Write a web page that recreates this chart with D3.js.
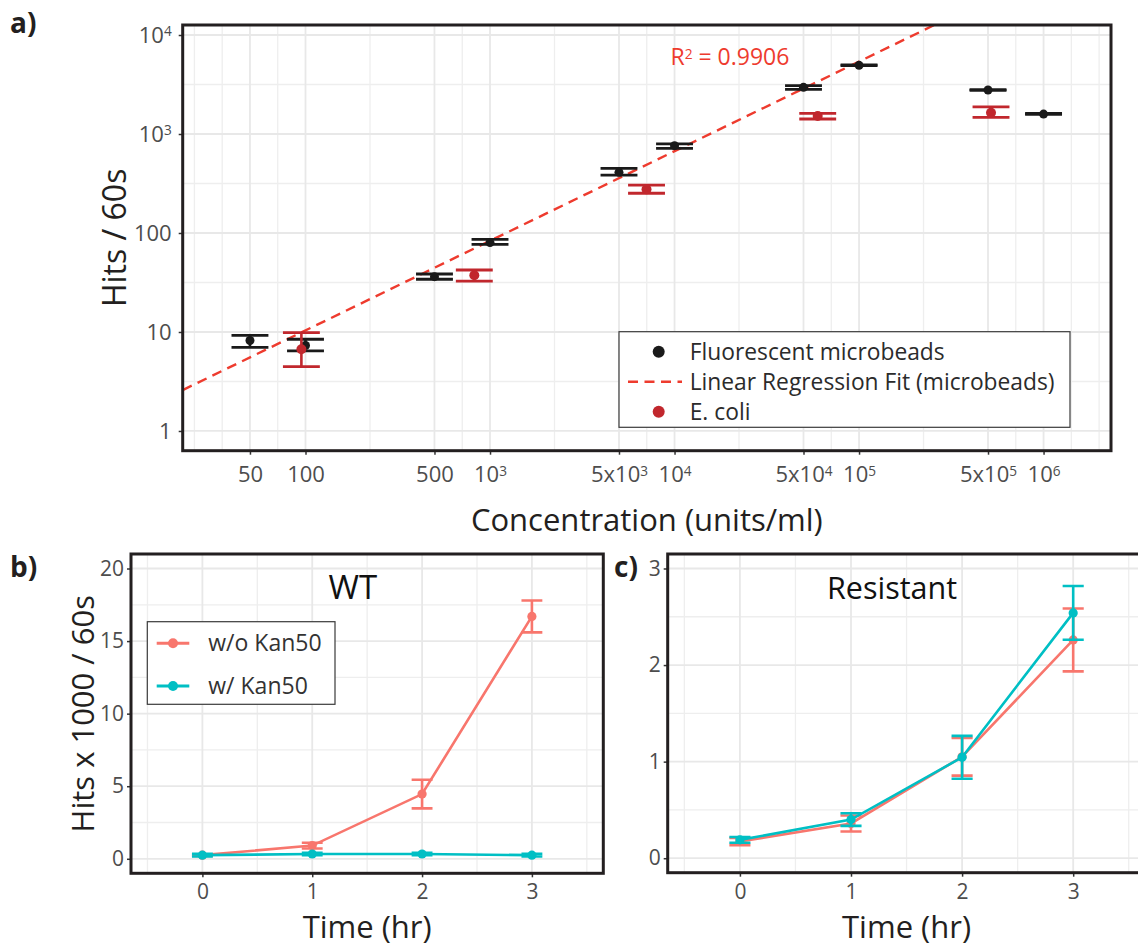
<!DOCTYPE html>
<html>
<head>
<meta charset="utf-8">
<script src="https://cdn.jsdelivr.net/npm/d3@7"></script>
<style>
  body { margin: 0; background: #fff; }
  svg text { font-family: "Open Sans", sans-serif; }
</style>
</head>
<body>
<div id="chart"></div>
<script>
// ---- panel a : hits vs concentration ----
var beadConc = [50, 100, 500, 1e3, 5e3, 1e4, 5e4, 1e5, 5e5, 1e6];
var beadHits = [8.2, 7.3, 36.2, 80, 410, 762, 2960, 4940, 2780, 1590];
var beadLow  = [7.0, 6.43, 34.1, 76.9, 385, 717, 2827, 4900, 2760, 1575];
var beadHigh = [9.25, 8.44, 38.5, 86.3, 450, 793, 3076, 4990, 2810, 1610];
var fitLimit = 1e5; // beads above this saturate, left out of the fit

var ecoliConc = [95, 822, 7050, 59700, 519000];
var ecoliHits = [6.7, 37.4, 276, 1520, 1640];
var ecoliLow  = [4.46, 32.7, 252, 1418, 1475];
var ecoliHigh = [9.84, 42.3, 305, 1618, 1875];

var concBreaks = [50, 100, 500, 1e3, 5e3, 1e4, 5e4, 1e5, 5e5, 1e6];
var concLabels = [["50"], ["100"], ["500"], ["10", "3"], ["5x10", "3"], ["10", "4"],
                  ["5x10", "4"], ["10", "5"], ["5x10", "5"], ["10", "6"]];
var hitBreaks = [1, 10, 100, 1e3, 1e4];
var hitLabels = [["1"], ["10"], ["100"], ["10", "3"], ["10", "4"]];

// ---- panels b, c : hits x 1000 vs time ----
var hours = [0, 1, 2, 3];
var wtNoKan     = [0.25, 0.91, 4.46, 16.7];
var wtNoKanErr  = [0.05, 0.2, 0.99, 1.1];
var wtKan       = [0.25, 0.33, 0.33, 0.25];
var wtKanErr    = [0.09, 0.09, 0.09, 0.09];
var resNoKan    = [0.173, 0.36, 1.05, 2.26];
var resNoKanErr = [0.037, 0.083, 0.195, 0.325];
var resKan      = [0.19, 0.40, 1.045, 2.54];
var resKanErr   = [0.03, 0.065, 0.222, 0.278];

var RED = "#F8766D", CYAN = "#00BFC4", INK = "#231f20", TICKTXT = "#4d4d4d";
var GRID = "#e8e8e8", MINOR = "#eeeeee";

var svg = d3.select("#chart").append("svg")
  .attr("width", 1138).attr("height", 950)
  .style("background", "#fff");
var defs = svg.append("defs");

function clipRect(id, l, t, r, b) {
  defs.append("clipPath").attr("id", id).append("rect")
    .attr("x", l).attr("y", t).attr("width", r - l).attr("height", b - t);
  return "url(#" + id + ")";
}

// ggplot-style minor breaks: midpoints between breaks, extended one step each side
function minorBreaks(b, lo, hi) {
  var n = b.length;
  var ext = [b[0] - (b[1] - b[0])].concat(b, [b[n - 1] + (b[n - 1] - b[n - 2])]);
  var out = [];
  for (var i = 0; i < ext.length - 1; i++) {
    if (i == 0 || i == ext.length - 2) out.push(i == 0 ? ext[0] : ext[ext.length - 1]);
    out.push((ext[i] + ext[i + 1]) / 2);
  }
  return out.filter(function(v) { return v > lo && v < hi; });
}

function supLabel(sel, parts) {
  sel.text(null);
  sel.append("tspan").text(parts[0]);
  if (parts[1]) sel.append("tspan").attr("dy", "-0.45em").attr("font-size", "0.62em").text(parts[1]);
}

function styleAxis(g, size) {
  g.attr("font-family", null).attr("font-size", null);
  g.select(".domain").remove();
  g.selectAll(".tick line").attr("stroke", "#333").attr("stroke-width", 1.5);
  g.selectAll(".tick text").attr("font-size", size).attr("fill", TICKTXT);
}

// ================= panel a =================
var A = {left: 182.7, right: 1111, top: 25, bottom: 450.7};
var xA = d3.scaleLog().domain([21.6, 2.32e6]).range([A.left, A.right]);
var yA = d3.scaleLog().domain([0.632, 12620]).range([A.bottom, A.top]);
var clipA = clipRect("clipA", A.left, A.top, A.right, A.bottom);

var gridA = svg.append("g").attr("clip-path", clipA);
var lx = xA.domain().map(Math.log10), ly = yA.domain().map(Math.log10);
gridA.selectAll(".vminor").data(minorBreaks(concBreaks.map(Math.log10), lx[0], lx[1]))
  .enter().append("line")
  .attr("x1", d => xA(Math.pow(10, d))).attr("x2", d => xA(Math.pow(10, d)))
  .attr("y1", A.top).attr("y2", A.bottom)
  .attr("stroke", MINOR).attr("stroke-width", 1.3);
gridA.selectAll(".hminor").data(minorBreaks(hitBreaks.map(Math.log10), ly[0], ly[1]))
  .enter().append("line")
  .attr("y1", d => yA(Math.pow(10, d))).attr("y2", d => yA(Math.pow(10, d)))
  .attr("x1", A.left).attr("x2", A.right)
  .attr("stroke", MINOR).attr("stroke-width", 1.3);
gridA.selectAll(".vmajor").data(concBreaks).enter().append("line")
  .attr("x1", d => xA(d)).attr("x2", d => xA(d))
  .attr("y1", A.top).attr("y2", A.bottom)
  .attr("stroke", GRID).attr("stroke-width", 1.8);
gridA.selectAll(".hmajor").data(hitBreaks).enter().append("line")
  .attr("y1", d => yA(d)).attr("y2", d => yA(d))
  .attr("x1", A.left).attr("x2", A.right)
  .attr("stroke", GRID).attr("stroke-width", 1.8);

// linear regression on log-log beads up to fitLimit
var fx = [], fy = [];
beadConc.forEach(function(c, i) {
  if (c <= fitLimit) { fx.push(Math.log10(c)); fy.push(Math.log10(beadHits[i])); }
});
var mx = d3.mean(fx), my = d3.mean(fy);
var sxy = d3.sum(fx, (v, i) => (v - mx) * (fy[i] - my));
var sxx = d3.sum(fx, v => (v - mx) * (v - mx));
var slope = sxy / sxx, icpt = my - slope * mx;
var fitEnds = xA.domain();
svg.append("g").attr("clip-path", clipA).append("line")
  .attr("x1", xA(fitEnds[0])).attr("y1", yA(Math.pow(10, icpt + slope * Math.log10(fitEnds[0]))))
  .attr("x2", xA(fitEnds[1])).attr("y2", yA(Math.pow(10, icpt + slope * Math.log10(fitEnds[1]))))
  .attr("stroke", "#ee3b2e").attr("stroke-width", 2.4).attr("stroke-dasharray", "10,6.5");

var capA = 0.1; // half width of errorbar caps in decades
function logBars(g, conc, low, high, color) {
  conc.forEach(function(c, i) {
    var l = xA(c / Math.pow(10, capA)), r = xA(c * Math.pow(10, capA));
    g.append("line").attr("x1", xA(c)).attr("x2", xA(c)).attr("y1", yA(low[i])).attr("y2", yA(high[i]))
      .attr("stroke", color).attr("stroke-width", 2.6);
    [low[i], high[i]].forEach(function(v) {
      g.append("line").attr("x1", l).attr("x2", r).attr("y1", yA(v)).attr("y2", yA(v))
        .attr("stroke", color).attr("stroke-width", 2.8);
    });
  });
}
var marksA = svg.append("g").attr("clip-path", clipA);
logBars(marksA, beadConc, beadLow, beadHigh, "#1a1a1a");
marksA.selectAll(".bead").data(beadConc).enter().append("circle")
  .attr("cx", d => xA(d)).attr("cy", (d, i) => yA(beadHits[i])).attr("r", 4.5).attr("fill", "#1a1a1a");
logBars(marksA, ecoliConc, ecoliLow, ecoliHigh, "#c1272d");
marksA.selectAll(".ecoli").data(ecoliConc).enter().append("circle")
  .attr("cx", d => xA(d)).attr("cy", (d, i) => yA(ecoliHits[i])).attr("r", 5).attr("fill", "#c1272d");

// R^2 annotation
var r2 = svg.append("text").attr("x", xA(9500)).attr("y", yA(4980))
  .attr("font-size", 23).attr("fill", "#ee3b2e");
r2.append("tspan").text("R");
r2.append("tspan").attr("dy", "-0.45em").attr("font-size", "0.6em").text("2");
r2.append("tspan").attr("dy", "0.27em").text(" = 0.9906");

// axes
var gxA = svg.append("g").attr("transform", "translate(0," + A.bottom + ")")
  .call(d3.axisBottom(xA).tickValues(concBreaks).tickSize(4).tickPadding(12).tickSizeOuter(0));
styleAxis(gxA, 22);
gxA.selectAll(".tick text").each(function(d, i) { supLabel(d3.select(this), concLabels[i]); });
var gyA = svg.append("g").attr("transform", "translate(" + A.left + ",0)")
  .call(d3.axisLeft(yA).tickValues(hitBreaks).tickSize(4).tickPadding(7).tickSizeOuter(0));
styleAxis(gyA, 22);
gyA.selectAll(".tick text").each(function(d, i) { supLabel(d3.select(this), hitLabels[i]); });

svg.append("rect").attr("x", A.left).attr("y", A.top)
  .attr("width", A.right - A.left).attr("height", A.bottom - A.top)
  .attr("fill", "none").attr("stroke", INK).attr("stroke-width", 3);

// legend a
var legA = svg.append("g");
legA.append("rect").attr("x", 619).attr("y", 331.7).attr("width", 451).attr("height", 95.6)
  .attr("fill", "#fff").attr("stroke", "#3a3a3a").attr("stroke-width", 1.2);
legA.append("circle").attr("cx", 658.7).attr("cy", 351.7).attr("r", 6).attr("fill", "#1a1a1a");
legA.append("line").attr("x1", 628).attr("x2", 682).attr("y1", 381.7).attr("y2", 381.7)
  .attr("stroke", "#ee3b2e").attr("stroke-width", 2.4).attr("stroke-dasharray", "10,6.5");
legA.append("circle").attr("cx", 658.7).attr("cy", 411.7).attr("r", 6).attr("fill", "#c1272d");
var legTextA = ["Fluorescent microbeads", "Linear Regression Fit (microbeads)", "E. coli"];
legA.selectAll(".lt").data(legTextA).enter().append("text")
  .attr("x", 689.7).attr("y", (d, i) => 359.8 + i * 30)
  .attr("font-size", 22.8).attr("fill", "#2b2b2b").text(d => d);

svg.append("text").attr("x", (A.left + A.right) / 2).attr("y", 531)
  .attr("text-anchor", "middle").attr("font-size", 31).attr("fill", INK)
  .text("Concentration (units/ml)");
svg.append("text").attr("transform", "translate(126," + (A.top + A.bottom) / 2 + ") rotate(-90)")
  .attr("text-anchor", "middle").attr("font-size", 32).attr("fill", INK)
  .text("Hits / 60s");
svg.append("text").attr("x", 10).attr("y", 33).attr("font-size", 28)
  .attr("font-weight", "bold").attr("fill", INK).text("a)");

// ================= panels b, c =================
function timePanel(P) {
  var x = d3.scaleLinear().domain([-0.65, 3.65]).range([P.left, P.right]);
  var y = d3.scaleLinear().domain(P.yDomain).range([P.bottom, P.top]);
  var cp = clipRect(P.id, P.left, P.top, P.right, P.bottom);
  var g = svg.append("g").attr("clip-path", cp);
  var xb = hours, yb = P.yBreaks;

  g.selectAll(".vmin").data(minorBreaks(xb, x.domain()[0], x.domain()[1])).enter().append("line")
    .attr("x1", d => x(d)).attr("x2", d => x(d)).attr("y1", P.top).attr("y2", P.bottom)
    .attr("stroke", MINOR).attr("stroke-width", 1.3);
  g.selectAll(".hmin").data(minorBreaks(yb, y.domain()[0], y.domain()[1])).enter().append("line")
    .attr("y1", d => y(d)).attr("y2", d => y(d)).attr("x1", P.left).attr("x2", P.right)
    .attr("stroke", MINOR).attr("stroke-width", 1.3);
  g.selectAll(".vmaj").data(xb).enter().append("line")
    .attr("x1", d => x(d)).attr("x2", d => x(d)).attr("y1", P.top).attr("y2", P.bottom)
    .attr("stroke", GRID).attr("stroke-width", 1.8);
  g.selectAll(".hmaj").data(yb).enter().append("line")
    .attr("y1", d => y(d)).attr("y2", d => y(d)).attr("x1", P.left).attr("x2", P.right)
    .attr("stroke", GRID).attr("stroke-width", 1.8);

  var line = d3.line().x((d, i) => x(hours[i])).y(d => y(d));
  P.series.forEach(function(s) {
    g.append("path").datum(s.vals).attr("d", line)
      .attr("fill", "none").attr("stroke", s.color).attr("stroke-width", 2.6);
    s.vals.forEach(function(v, i) {
      var t = hours[i];
      g.append("line").attr("x1", x(t)).attr("x2", x(t))
        .attr("y1", y(v - s.err[i])).attr("y2", y(v + s.err[i]))
        .attr("stroke", s.color).attr("stroke-width", 2.6);
      [v - s.err[i], v + s.err[i]].forEach(function(e) {
        g.append("line").attr("x1", x(t - 0.095)).attr("x2", x(t + 0.095))
          .attr("y1", y(e)).attr("y2", y(e))
          .attr("stroke", s.color).attr("stroke-width", 2.6);
      });
    });
    g.selectAll(null).data(s.vals).enter().append("circle")
      .attr("cx", (d, i) => x(hours[i])).attr("cy", d => y(d)).attr("r", 4.6).attr("fill", s.color);
  });

  var gx = svg.append("g").attr("transform", "translate(0," + P.bottom + ")")
    .call(d3.axisBottom(x).tickValues(xb).tickFormat(d3.format("d"))
      .tickSize(4).tickPadding(7).tickSizeOuter(0));
  styleAxis(gx, 21);
  var gy = svg.append("g").attr("transform", "translate(" + P.left + ",0)")
    .call(d3.axisLeft(y).tickValues(yb).tickFormat(d3.format("d"))
      .tickSize(4).tickPadding(3).tickSizeOuter(0));
  styleAxis(gy, 21);

  svg.append("rect").attr("x", P.left).attr("y", P.top)
    .attr("width", P.right - P.left).attr("height", P.bottom - P.top)
    .attr("fill", "none").attr("stroke", INK).attr("stroke-width", 3);

  svg.append("text").attr("x", x(1.37)).attr("y", P.top + 45)
    .attr("text-anchor", "middle").attr("font-size", P.titleSize).attr("fill", "#111").text(P.title);
  svg.append("text").attr("x", (P.left + P.right) / 2).attr("y", 938)
    .attr("text-anchor", "middle").attr("font-size", 31).attr("fill", INK).text("Time (hr)");
  svg.append("text").attr("x", P.tagX).attr("y", 577).attr("font-size", 28)
    .attr("font-weight", "bold").attr("fill", INK).text(P.tag);
  return {x: x, y: y};
}

timePanel({
  id: "clipB", left: 131, right: 603.3, top: 554, bottom: 873.3,
  yDomain: [-1, 21], yBreaks: [0, 5, 10, 15, 20], title: "WT", titleSize: 33, tag: "b)", tagX: 10,
  series: [{vals: wtNoKan, err: wtNoKanErr, color: RED}, {vals: wtKan, err: wtKanErr, color: CYAN}]
});
timePanel({
  id: "clipC", left: 667.7, right: 1145.4, top: 554, bottom: 872.7,
  yDomain: [-0.15, 3.15], yBreaks: [0, 1, 2, 3], title: "Resistant", titleSize: 30.5, tag: "c)", tagX: 614,
  series: [{vals: resNoKan, err: resNoKanErr, color: RED}, {vals: resKan, err: resKanErr, color: CYAN}]
});

svg.append("text").attr("transform", "translate(94,713.7) rotate(-90)")
  .attr("text-anchor", "middle").attr("font-size", 31).attr("fill", INK)
  .text("Hits x 1000 / 60s");

// legend b
var legB = svg.append("g");
legB.append("rect").attr("x", 147.3).attr("y", 621.7).attr("width", 187.7).attr("height", 82.6)
  .attr("fill", "#fff").attr("stroke", "#3a3a3a").attr("stroke-width", 1.2);
var legItems = [{label: "w/o Kan50", color: RED}, {label: "w/ Kan50", color: CYAN}];
legItems.forEach(function(it, i) {
  var cy = 643.3 + i * 42.7;
  legB.append("line").attr("x1", 156.7).attr("x2", 189.3).attr("y1", cy).attr("y2", cy)
    .attr("stroke", it.color).attr("stroke-width", 3);
  legB.append("circle").attr("cx", 173).attr("cy", cy).attr("r", 5).attr("fill", it.color);
  legB.append("text").attr("x", 208.3).attr("y", cy + 8).attr("font-size", 23)
    .attr("fill", "#333").text(it.label);
});
</script>
</body>
</html>
